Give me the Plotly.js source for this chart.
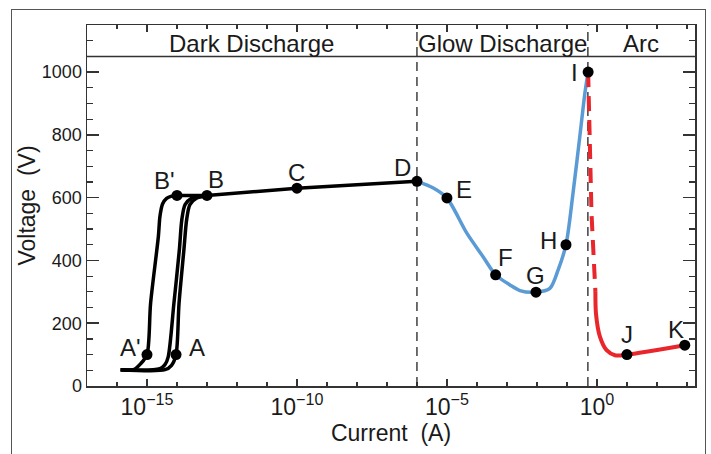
<!DOCTYPE html>
<html><head><meta charset="utf-8">
<script src="https://cdn.plot.ly/plotly-3.0.1.min.js"></script>
<style>
html,body{margin:0;padding:0;background:#fff;}
#wrap{position:relative;width:711px;height:454px;overflow:hidden;}
#chart{width:711px;height:454px;}
#frame{position:absolute;left:11px;top:9px;width:693px;height:470px;border:1.5px solid #555;pointer-events:none;}
</style></head><body>
<div id="wrap"><div id="chart"></div><div id="frame"></div></div>
<script>
// ---- data (current in A, voltage in V) ----
const curve1Current = [1.32e-16, 3.55e-16, 6.3e-16, 1e-15, 1.32e-15, 2.4e-15, 2.7e-15, 3.3e-15, 4.5e-15, 6.6e-15, 1e-14];
const curve1Voltage = [52, 52, 72, 100, 264, 477, 540, 580, 598, 605, 607];

const curve2Current = [1.32e-16, 2.7e-15, 3.98e-15, 5.1e-15, 7.9e-15, 1.2e-14, 1.45e-14, 1.86e-14, 3.1e-14, 5.1e-14, 1e-13];
const curve2Voltage = [52, 55, 68, 93, 263, 434, 530, 578, 599, 605, 607];

const curve3Current = [1.32e-16, 3.98e-15, 6.6e-15, 9.3e-15, 1.17e-14, 1.7e-14, 2.1e-14, 2.7e-14, 4.6e-14, 7.6e-14, 1e-13];
const curve3Voltage = [52, 52, 66, 100, 263, 434, 530, 578, 599, 604, 607];

const darkCurrent = [1e-14, 1e-13, 1e-10, 1e-6];
const darkVoltage = [607, 607, 630, 652];

const glowCurrent = [1e-6, 3.5e-6, 1e-5, 4.6e-5, 1.6e-4, 4.2e-4, 1.26e-3, 2.7e-3, 9.3e-3, 0.027, 0.051, 0.093, 0.16, 0.27, 0.40, 0.51];
const glowVoltage = [652, 631, 599, 487, 412, 354, 322, 304, 299, 311, 370, 450, 615, 796, 935, 1000];

const transCurrent = [0.51, 0.66, 0.89];
const transVoltage = [1000, 550, 300];

const arcCurrent = [0.89, 0.93, 1.26, 2.1, 4.0, 10, 850];
const arcVoltage = [300, 231, 157, 114, 98, 100, 130];

const pointLabels  = ["A'", "A", "B'", "B", "C", "D", "E", "F", "G", "H", "I", "J", "K"];
const pointCurrent = [1e-15, 9.3e-15, 1e-14, 1e-13, 1e-10, 1e-6, 1e-5, 4.2e-4, 9.3e-3, 0.093, 0.51, 10, 850];
const pointVoltage = [100, 100, 607, 607, 630, 652, 599, 354, 299, 450, 1000, 100, 130];

const regionNames  = ["Dark Discharge", "Glow Discharge", "Arc"];
const regionBounds = [1e-17, 1e-6, 0.5, 1.86e3];   // region edges (A)
const regionLabelVoltage = 1092;
const bandVoltage = 1050;

const xTickVals = [1e-15, 1e-10, 1e-5, 1];
const xTickText = ["10<sup>\u221215</sup>", "10<sup>\u221210</sup>", "10<sup>\u22125</sup>", "10<sup>0</sup>"];
const xMinorVals = [1e-17,1e-16,1e-15,1e-14,1e-13,1e-12,1e-11,1e-10,1e-9,1e-8,1e-7,1e-6,1e-5,1e-4,1e-3,1e-2,1e-1,1,10,100,1000];

// ---- styles / label offsets (pixels) ----
const labelOffsets = [[-16,7],[21,7],[-12,14.5],[9,16],[0,16],[-14,14],[17,8],[10,17],[0,17],[-17,4],[-14,0],[0,20],[-9,16]];
const FONT = "Liberation Sans, Arial, sans-serif";
const TXT = "#1a1a1a";
const AX = "#333";

const blk = {color: "#000", width: 3.5, shape: "spline", smoothing: 0.8};
const traces = [
  {x: [regionBounds[1], regionBounds[1]], y: [0, 1150], mode: "lines", line: {color: "#222", width: 1.3, dash: "9px,6px"}},
  {x: [regionBounds[2], regionBounds[2]], y: [0, 1150], mode: "lines", line: {color: "#222", width: 1.3, dash: "9px,6px"}},
  {x: curve1Current, y: curve1Voltage, mode: "lines", line: blk},
  {x: curve2Current, y: curve2Voltage, mode: "lines", line: blk},
  {x: curve3Current, y: curve3Voltage, mode: "lines", line: blk},
  {x: darkCurrent, y: darkVoltage, mode: "lines", line: {color: "#000", width: 3.5}},
  {x: glowCurrent, y: glowVoltage, mode: "lines", line: {color: "#5b9bd5", width: 3.5, shape: "spline", smoothing: 0.8}},
  {x: transCurrent, y: transVoltage, mode: "lines", line: {color: "#e8262b", width: 4, dash: "15px,9px"}},
  {x: arcCurrent, y: arcVoltage, mode: "lines", line: {color: "#e8262b", width: 4, shape: "spline", smoothing: 0.8}},
  {x: pointCurrent, y: pointVoltage, mode: "markers", marker: {color: "#000", size: 11}}
];

const annotations = pointLabels.map((t, i) => ({
  x: Math.log10(pointCurrent[i]), y: pointVoltage[i], xref: "x", yref: "y",
  text: t, showarrow: false, xanchor: "center", yanchor: "middle",
  xshift: labelOffsets[i][0], yshift: labelOffsets[i][1],
  font: {family: FONT, size: 24, color: TXT}
}));
regionNames.forEach((name, i) => {
  annotations.push({
    x: (Math.log10(regionBounds[i]) + Math.log10(regionBounds[i+1])) / 2,
    y: regionLabelVoltage, xref: "x", yref: "y", text: name, showarrow: false,
    xanchor: "center", yanchor: "middle", font: {family: FONT, size: 24, color: TXT}
  });
});

const layout = {
  width: 711, height: 454,
  margin: {l: 87, r: 16, t: 25, b: 68},
  paper_bgcolor: "#fff", plot_bgcolor: "#fff",
  showlegend: false,
  font: {family: FONT, color: TXT},
  xaxis: {
    type: "log", range: [-17, 3.27], tickmode: "array", tickvals: xTickVals, ticktext: xTickText,
    ticks: "inside", ticklen: 7, tickwidth: 1.5, tickcolor: AX,
    showline: true, linecolor: AX, linewidth: 1.5, mirror: "allticks",
    showgrid: false, zeroline: false, tickfont: {size: 23, family: FONT, color: TXT},
    minor: {tickmode: "array", tickvals: xMinorVals, ticks: "inside", ticklen: 4, tickwidth: 1.2, tickcolor: AX, showgrid: false},
    title: {text: "Current\u00a0 (A)", font: {size: 23, family: FONT, color: TXT}, standoff: 2}
  },
  yaxis: {
    range: [0, 1150], tick0: 0, dtick: 200,
    ticks: "inside", ticklen: 12, tickwidth: 1.5, tickcolor: AX,
    showline: true, linecolor: AX, linewidth: 1.5, mirror: "allticks",
    showgrid: false, zeroline: false, tickfont: {size: 18, family: FONT, color: TXT},
    minor: {dtick: 50, ticks: "inside", ticklen: 6, tickwidth: 1.2, tickcolor: AX, showgrid: false},
    title: {text: "Voltage\u00a0 (V)", font: {size: 23, family: FONT, color: TXT}, standoff: 0}
  },
  shapes: [
    {type: "line", xref: "paper", x0: 0, x1: 1, yref: "y", y0: bandVoltage, y1: bandVoltage, line: {color: AX, width: 1.5}}
  ],
  annotations: annotations
};

Plotly.newPlot("chart", traces, layout, {staticPlot: true, displayModeBar: false});
</script>
</body></html>
